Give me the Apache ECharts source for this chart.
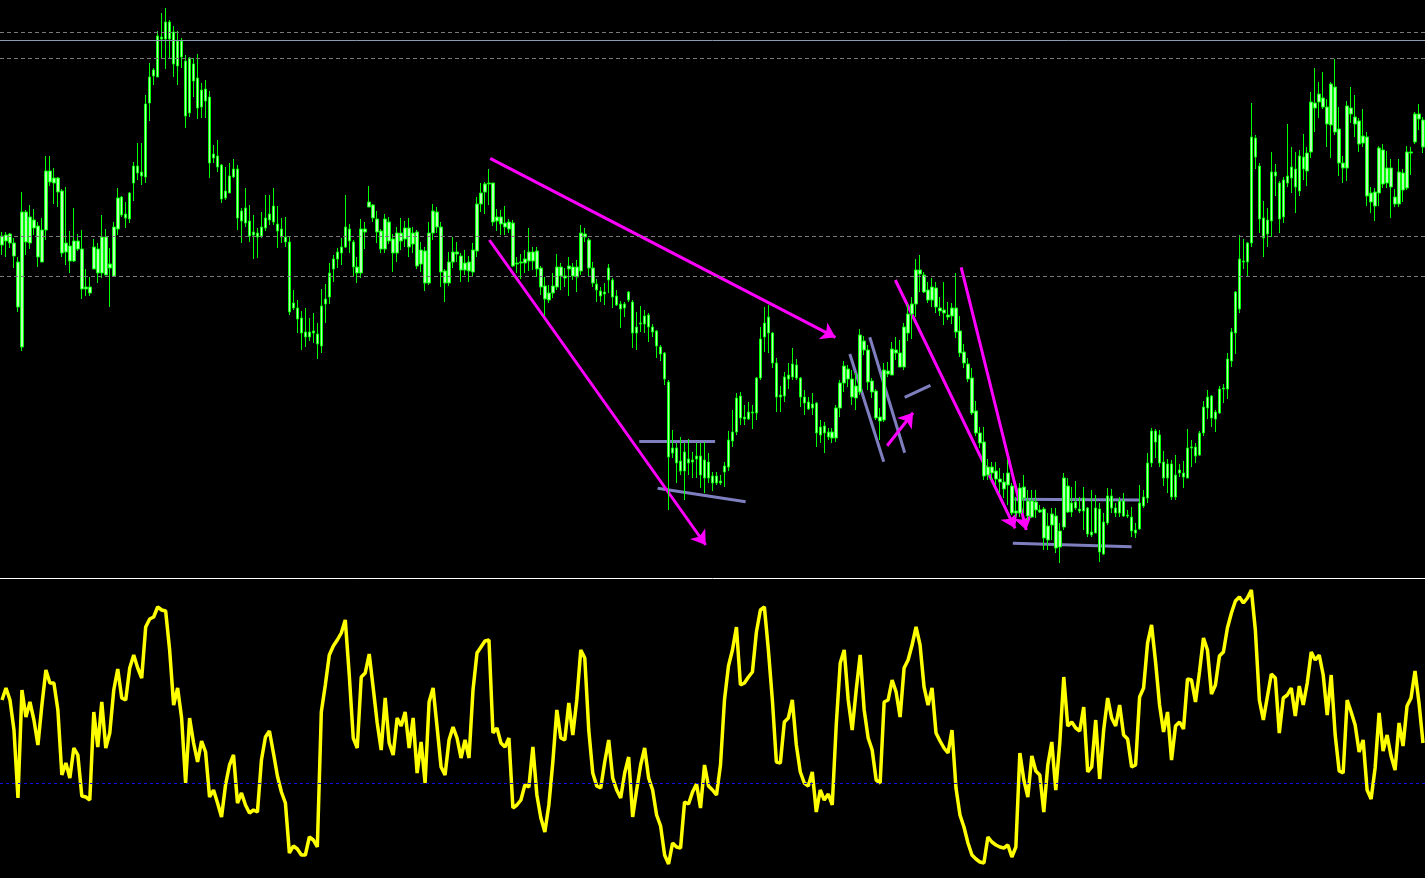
<!DOCTYPE html>
<html>
<head>
<meta charset="utf-8">
<script src="https://cdn.jsdelivr.net/npm/echarts@6/dist/echarts.min.js"></script>
<style>
html,body{margin:0;padding:0;background:#000;}
#chart{width:1425px;height:878px;}
</style>
</head>
<body>
<div id="chart"></div>
<script>
// Candle bodies / wicks (price units). All candles share one style, so only body edges matter.
const bodyTop = [
764,
765,766,757,738,788,788,783,780,774,770,
829,829,822,822,809,757,754,759,759,751,
713,713,753,751,763,763,736,773,802,803,
786,807,834,834,828,896,923,930,964,963,
978,978,968,959,959,939,942,936,922,910,
911,903,846,844,835,809,824,831,831,789,
792,779,768,767,773,782,786,794,776,771,
763,758,697,692,682,668,668,669,666,694,
701,727,741,748,753,773,771,758,733,771,
771,798,795,781,769,781,778,761,767,767,
772,772,767,768,750,749,767,789,788,773,
729,738,748,748,744,737,738,750,796,807,
816,817,817,783,783,777,778,777,737,738,
741,748,748,749,732,714,707,714,733,733,
724,734,733,733,767,766,760,732,716,709,
708,732,720,704,696,696,708,698,673,677,
684,685,673,669,653,647,618,552,552,539,
548,541,540,544,544,540,538,524,524,519,
534,560,568,602,604,583,588,588,622,661,
677,683,667,637,605,623,625,636,635,622,
603,598,596,597,573,574,568,568,592,617,
634,631,621,614,665,659,650,619,609,583,
630,629,651,650,647,673,686,696,730,730,
725,710,713,712,692,690,685,692,692,669,
648,636,622,589,567,558,533,533,529,521,
518,527,514,489,512,513,499,499,498,490,
491,474,486,484,469,522,514,497,498,491,
502,492,468,492,491,478,504,504,492,499,
499,485,483,470,497,503,537,569,569,565,
538,536,536,525,530,527,552,553,553,567,
593,603,604,588,611,612,641,668,708,741,
739,757,863,862,834,782,780,828,828,817,
820,824,833,831,844,843,847,898,897,906,
902,893,916,913,871,837,894,892,883,879,
864,863,807,808,852,850,832,832,803,828,
827,848,848,886,886,880
];
const bodyBottom = [
755,
759,757,744,693,653,758,757,772,743,738,
770,818,817,808,747,748,739,739,751,711,
711,707,731,727,727,725,732,724,771,785,
782,781,817,827,824,823,897,924,923,961,
961,961,936,934,943,884,887,919,892,893,
899,837,842,833,801,802,807,823,782,779,
777,764,765,763,764,772,780,778,769,763,
758,688,692,681,667,663,663,667,656,654,
696,703,731,741,747,753,759,733,727,727,
768,793,782,768,751,751,759,747,747,759,
761,753,756,734,736,717,717,767,773,728,
717,717,738,746,730,730,729,728,749,796,
808,816,778,779,776,773,771,734,736,737,
737,739,739,731,713,701,700,707,713,724,
722,731,724,723,729,763,732,717,710,704,
706,720,703,695,691,692,700,667,667,676,
676,673,668,654,646,621,543,547,537,529,
529,537,538,541,525,522,522,517,517,517,
528,533,559,568,582,581,581,587,587,622,
663,667,637,603,603,604,621,623,622,603,
597,591,592,567,565,567,563,562,562,592,
617,621,603,602,608,650,618,608,582,579,
580,626,625,647,633,633,667,686,696,726,
708,700,700,693,689,687,683,684,668,647,
637,621,587,567,557,524,525,527,521,518,
511,515,487,487,487,502,484,483,490,488,
462,460,475,452,453,473,488,488,492,489,
489,466,465,467,448,446,477,492,487,487,
484,484,469,467,471,494,502,537,558,537,
522,522,503,503,527,523,522,552,544,545,
567,592,582,581,587,611,611,639,667,691,
738,738,757,843,781,762,766,779,824,781,
783,817,822,813,809,831,829,848,892,898,
893,876,875,868,837,832,832,886,876,856,
857,804,798,794,807,816,817,813,796,796,
810,812,847,858,881,853
];
const high = [
768,
768,767,762,743,808,790,795,791,778,782,
844,844,832,823,811,813,769,792,766,770,
731,723,761,757,785,771,752,778,812,804,
798,808,838,857,857,905,937,932,969,987,
992,980,974,969,962,945,943,942,946,917,
920,909,855,860,836,833,837,841,835,792,
812,795,785,772,788,805,805,812,794,782,
783,764,710,700,689,692,682,687,677,711,
716,737,745,752,762,805,776,760,743,781,
778,814,796,789,771,786,783,766,773,782,
779,782,773,770,758,753,778,796,793,778,
731,748,763,758,747,750,744,757,803,817,
818,831,817,791,790,794,781,780,743,746,
750,772,753,753,734,723,715,727,746,737,
732,743,737,740,775,772,762,738,721,713,
717,736,722,710,699,698,709,700,688,694,
690,687,676,670,655,648,620,570,557,563,
557,561,548,557,557,558,547,528,528,525,
538,569,590,607,608,595,598,595,623,673,
693,695,668,642,614,628,637,652,641,623,
610,603,607,598,580,578,572,572,595,620,
639,635,630,627,671,664,655,622,611,592,
637,638,658,663,660,677,696,703,741,745,
728,718,722,718,703,718,698,697,727,684,
656,642,632,599,573,573,541,538,538,532,
527,540,517,503,517,525,510,510,510,495,
493,487,492,492,477,527,522,513,519,503,
513,493,510,505,497,487,512,511,497,503,
507,490,493,477,515,510,547,572,571,570,
549,541,540,545,536,539,571,560,557,569,
599,610,605,590,614,616,647,672,709,765,
761,758,897,865,837,799,792,848,836,819,
823,876,853,848,850,866,853,908,932,918,
928,901,918,941,893,844,899,913,905,882,
891,868,813,812,854,856,849,841,811,841,
831,854,853,888,896,883
];
const low = [
745,
743,752,732,688,649,745,751,765,733,738,
760,814,796,793,743,735,727,738,749,701,
704,704,731,717,722,725,693,724,765,783,
772,777,799,820,815,817,879,915,923,942,
931,942,923,915,932,872,883,903,881,882,
882,822,837,828,797,800,807,822,770,757,
773,758,741,742,762,769,775,775,752,757,
753,685,690,667,650,653,659,657,641,647,
677,696,718,732,735,752,747,724,717,722,
751,793,778,757,747,747,756,728,738,750,
753,743,747,731,728,709,715,760,767,713,
698,714,732,738,718,725,718,723,743,788,
786,795,774,769,765,765,767,733,727,721,
727,729,730,723,705,684,697,702,710,710,
713,704,720,708,725,758,724,713,698,698,
695,707,692,694,672,683,698,652,650,668,
667,658,663,642,639,615,490,542,517,525,
500,525,522,522,512,507,517,509,515,515,
513,529,553,565,575,575,580,571,580,620,
648,647,632,588,588,598,611,620,620,593,
585,590,585,553,557,547,560,557,558,583,
608,613,595,590,605,645,610,602,580,560,
578,623,625,640,633,630,659,661,683,708,
707,697,693,687,684,675,680,676,662,643,
632,618,585,564,552,520,520,520,515,507,
502,495,485,483,483,487,480,482,482,487,
450,450,460,447,437,470,487,483,490,487,
470,463,463,467,438,445,475,487,483,483,
483,482,463,462,470,492,497,533,542,533,
514,507,500,500,523,512,522,533,537,544,
564,581,573,568,586,597,601,633,646,687,
731,723,753,831,767,743,753,763,804,767,
777,813,807,787,804,820,814,842,868,882,
891,853,842,865,824,817,819,877,863,848,
853,794,787,779,794,812,812,782,793,793,
798,810,825,856,870,847
];
// Oscillator (lower panel)
const oscillator = [
178,190,178,148,80,188,161,176,158,133,
173,208,195,195,168,103,115,100,130,123,
82,81,78,166,131,176,130,145,188,209,
180,178,210,223,210,200,251,259,261,271,
268,267,228,173,190,160,95,160,135,116,
137,126,81,88,75,61,93,113,123,75,
85,73,65,68,66,118,141,147,125,102,
86,75,25,32,29,23,23,41,38,31,
166,193,223,232,238,245,258,203,140,130,
201,205,224,190,155,128,180,135,123,160,
152,166,130,160,105,136,95,176,190,151,
111,103,138,151,140,120,138,120,188,225,
231,237,238,145,150,135,131,140,70,73,
78,93,91,131,83,60,46,73,116,168,
140,138,175,143,178,228,220,148,105,92,
90,116,138,100,88,80,105,121,61,88,
113,130,100,88,63,52,23,14,35,31,
30,76,74,86,94,70,113,92,88,83,
113,178,212,228,251,193,195,201,206,246,
268,271,228,178,116,115,156,160,178,133,
106,95,92,106,66,88,78,84,73,153,
215,228,178,148,188,223,168,140,128,98,
95,176,178,198,186,161,210,218,233,251,
233,191,173,190,145,137,130,125,148,90,
63,51,35,23,19,16,15,41,36,33,
31,30,33,21,31,125,98,81,122,107,
103,66,113,136,88,135,201,152,156,150,
147,171,106,111,158,99,148,180,160,152,
173,143,139,111,113,181,190,235,253,216,
173,146,166,118,152,156,149,199,198,176,
206,240,228,184,193,222,226,250,265,277,
281,275,280,288,248,178,158,181,204,200,
145,180,183,190,162,192,173,195,226,218,
223,203,163,203,143,107,105,178,166,153,
126,138,88,79,110,165,127,143,122,108,
155,132,172,180,207,175,135
];
// Horizontal price levels
const dashedLevels = [968, 942, 764, 724];
const solidLevels = [960];
const oscLevel = 95;
// Drawn objects: [barIndex, price] endpoints
const arrows = [
  [[122.3, 841.7], [208.8, 662.7]],
  [[122.1, 760.0], [176.3, 455.0]],
  [[223.8, 720.0], [253.8, 471.7]],
  [[240.3, 732.7], [256.6, 470.0]],
  [[221.75, 554.3], [228.25, 587.3]]
];
const segments = [
  [[159.65, 558.3], [178.65, 558.3]],
  [[164.25, 511.7], [186.3, 498.3]],
  [[212.4, 646.0], [220.9, 538.3]],
  [[217.4, 662.7], [226.15, 547.3]],
  [[226.15, 602.7], [232.6, 614.7]],
  [[253.65, 500.7], [284.9, 500.0]],
  [[253.25, 456.7], [283.0, 453.3]]
];

const n = bodyTop.length;
const categories = bodyTop.map((_, i) => String(i));
const candles = bodyTop.map((t, i) => {
  const mid = (t + bodyBottom[i]) / 2;
  const prevMid = i > 0 ? (bodyTop[i - 1] + bodyBottom[i - 1]) / 2 : mid;
  const up = mid >= prevMid;
  return up ? [bodyBottom[i], t, low[i], high[i]] : [t, bodyBottom[i], low[i], high[i]];
});

const chart = echarts.init(document.getElementById('chart'), null, {renderer: 'canvas'});
const GREEN = '#00ff00';
const levelLines = dashedLevels.map(v => ({yAxis: v, lineStyle: {color: '#7a7a7a', type: [4, 3], width: 1}}))
  .concat(solidLevels.map(v => ({yAxis: v, lineStyle: {color: '#8c9cb4', type: 'solid', width: 1}})));

chart.setOption({
  backgroundColor: '#000000',
  animation: false,
  grid: [
    {left: -2.3, top: 0, width: 1428, height: 578},
    {left: -2.3, top: 580, width: 1428, height: 298}
  ],
  xAxis: [
    {type: 'category', gridIndex: 0, data: categories, boundaryGap: true,
     axisLine: {show: true, lineStyle: {color: '#ffffff', width: 1}},
     axisTick: {show: false}, axisLabel: {show: false}, splitLine: {show: false}},
    {type: 'category', gridIndex: 1, data: categories, boundaryGap: true, position: 'top',
     axisLine: {show: true, lineStyle: {color: '#ffffff', width: 1}},
     axisTick: {show: false}, axisLabel: {show: false}, splitLine: {show: false}},
    {type: 'value', gridIndex: 0, min: -0.5, max: n - 0.5, show: false}
  ],
  yAxis: [
    {type: 'value', gridIndex: 0, min: 422, max: 1000, show: false, splitLine: {show: false}},
    {type: 'value', gridIndex: 1, min: 0, max: 298, show: false, splitLine: {show: false}}
  ],
  series: [
    {
      type: 'candlestick', xAxisIndex: 0, yAxisIndex: 0, data: candles,
      barWidth: 3,
      itemStyle: {color: '#b8ffb8', color0: '#b8ffb8', borderColor: GREEN, borderColor0: GREEN, borderWidth: 1},
      silent: true,
      markLine: {silent: true, symbol: ['none', 'none'], label: {show: false}, animation: false, data: levelLines}
    },
    {
      type: 'line', xAxisIndex: 1, yAxisIndex: 1, data: oscillator,
      symbol: 'none', smooth: false, silent: true,
      lineStyle: {color: '#ffff00', width: 3.5},
      markLine: {silent: true, symbol: ['none', 'none'], label: {show: false}, animation: false,
        data: [{yAxis: oscLevel, lineStyle: {color: '#1010e0', type: [3, 3], width: 1}}]}
    },
    {
      type: 'lines', coordinateSystem: 'cartesian2d', xAxisIndex: 2, yAxisIndex: 0, silent: true,
      data: segments.map(s => ({coords: s})),
      symbol: ['none', 'none'],
      lineStyle: {color: '#7f7fc0', width: 3, opacity: 1, curveness: 0}
    },
    {
      type: 'lines', coordinateSystem: 'cartesian2d', xAxisIndex: 2, yAxisIndex: 0, silent: true,
      data: arrows.map(s => ({coords: s})),
      symbol: ['none', 'arrow'], symbolSize: 14,
      lineStyle: {color: '#ff00ff', width: 3, opacity: 1, curveness: 0}
    }
  ]
});
</script>
</body>
</html>
